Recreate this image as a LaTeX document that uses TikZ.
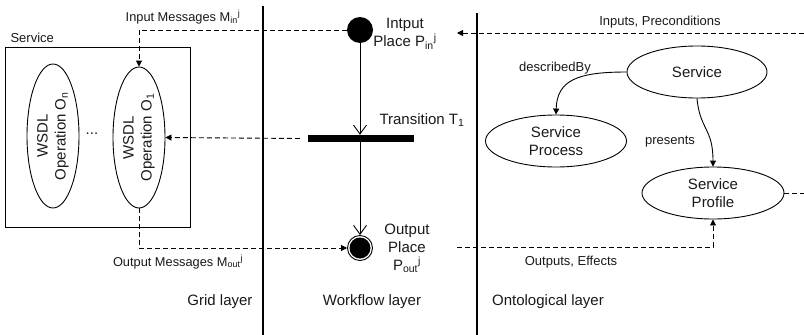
\documentclass[tikz,border=0pt]{standalone}
\usepackage{fontspec}
\setmainfont{Liberation Sans}
\usetikzlibrary{shapes.geometric,arrows.meta}
\begin{document}
\begin{tikzpicture}[x=1pt,y=-1pt,
  big/.style={font=\fontsize{15}{18}\selectfont, text=black!90},
  small/.style={font=\fontsize{13}{15.5}\selectfont, text=black!90},
  oval/.style={ellipse, draw, line width=0.9pt, inner sep=0pt, big, align=center},
  msg/.style={draw, dash pattern=on 5pt off 3pt, line width=0.9pt},
  tip/.style={-{Triangle[length=6pt,width=6pt]}},
  flow/.style={draw, line width=0.9pt, -{Straight Barb[length=9pt,width=13pt]}},
  layer/.style={draw, line width=1.1pt}]
\useasboundingbox (0,0) rectangle (804,335);

% layer separators
\coordinate (l1t) at (263,6);
\coordinate (l1b) at (263,335);
\coordinate (l2t) at (477,13);
\coordinate (l2b) at (477,335);
\draw[layer] (l1t) -- (l1b);
\draw[layer] (l2t) -- (l2b);

% grid layer
\node[draw, line width=0.9pt, minimum width=185pt, minimum height=180pt, inner sep=0pt] (svcbox) at (97.5,137) {};
\node[small, font=\fontsize{13}{15}\selectfont, anchor=west] (svclab) at (7,38) {Service};
\node[oval, rotate=90, minimum width=144pt, minimum height=52pt] (on) at (53,136) {WSDL\\Operation O\textsubscript{n}};
\node[oval, rotate=90, minimum width=141pt, minimum height=52pt] (o1) at (139,137.5) {WSDL\\Operation O\textsubscript{1}};
\node[big] (dots) at (92,134) {...};

% workflow layer
\node[circle, fill, minimum size=26pt, inner sep=0pt] (pin) at (360,30) {};
\node[fill, minimum width=106pt, minimum height=7pt, inner sep=0pt] (t1) at (361,138.5) {};
\node[circle, draw, line width=0.9pt, minimum size=25pt, inner sep=0pt] (pout) at (360,248) {};
\fill (pout.center) circle (10.5pt);
\draw[flow] (pin.south) -- (pin |- t1.north);
\draw[flow] (pin |- t1.south) -- (pout.north);
\node[big, align=center] (pinlab) at (405,34) {Intput\\Place P\textsubscript{in}\textsuperscript{j}};
\node[big, align=center] (poutlab) at (407,248) {Output\\Place\\P\textsubscript{out}\textsuperscript{j}};
\node[big] (tlab) at (422,120) {Transition T\textsubscript{1}};

% messages
\draw[msg,tip] (pin.west) -| (o1.east);
\node[small, font=\fontsize{12.8}{15}\selectfont] (inmsg) at (183,17) {Input Messages M\textsubscript{in}\textsuperscript{j}};
\coordinate (tw) at ([xshift=-8pt]t1.west);
\draw[msg,tip] (tw) -- (o1.south);
\draw[msg,tip] (o1.west) |- (pout.west);
\node[small, font=\fontsize{12.8}{15}\selectfont] (outmsg) at (178,262) {Output Messages M\textsubscript{out}\textsuperscript{j}};

% ontological layer
\node[oval, minimum width=140pt, minimum height=52pt] (svc) at (697,72) {Service};
\node[oval, minimum width=141pt, minimum height=52pt] (sproc) at (556,141) {Service\\Process};
\node[oval, minimum width=142pt, minimum height=52pt] (prof) at (713,193) {Service\\Profile};
\draw[line width=0.9pt, tip] (svc.west) .. controls (578,72) and (557,80) .. (sproc.north);
\node[small] (descr) at (555,68) {describedBy};
\draw[line width=0.9pt, tip] (svc.south) .. controls (700,130) and (713,128) .. (prof.north);
\node[small] (pres) at (670,142) {presents};

\coordinate (inR) at (804,33);
\coordinate (inT) at (457,33);
\draw[msg,tip] (inR) -- (inT);
\node[small] (inlab) at (660,22) {Inputs, Preconditions};
\coordinate (outR) at (804,193);
\draw[msg] (prof.east) -- (outR);
\coordinate (outL) at (457,247);
\draw[msg,tip] (outL) -| (prof.south);
\node[small] (outlab) at (571,262) {Outputs, Effects};

% layer labels
\node[big] (grid) at (220,302) {Grid layer};
\node[big] (wf) at (372,302) {Workflow layer};
\node[big] (onto) at (548,302) {Ontological layer};
\end{tikzpicture}
\end{document}
